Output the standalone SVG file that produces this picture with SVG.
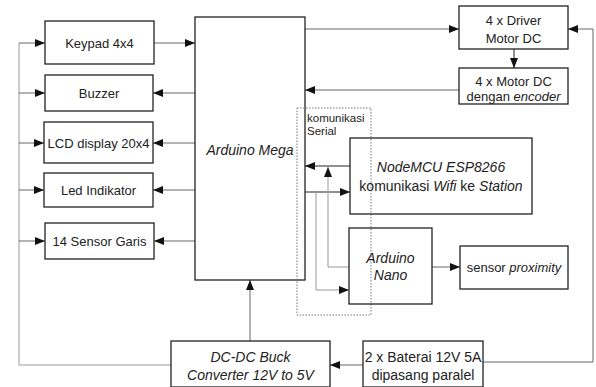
<svg xmlns="http://www.w3.org/2000/svg" width="596" height="387" viewBox="0 0 596 387">
<style>
.box{fill:#fff;stroke:#222;stroke-width:1.3}
.t{font-family:"Liberation Sans",Arial,sans-serif;font-size:13px;fill:#222;text-anchor:middle}
.b{font-size:14px}
.i{font-style:italic}
.s{font-size:11.5px;text-anchor:start}
.ln{fill:none;stroke:#666;stroke-width:1}
.dk{fill:none;stroke:#222;stroke-width:1}
.lt{fill:none;stroke:#999;stroke-width:1}
</style>
<defs>
<marker id="ah" markerWidth="10" markerHeight="8" refX="10" refY="4" orient="auto" markerUnits="userSpaceOnUse">
<path d="M0,0 L10,4 L0,8 Z" fill="#111"/>
</marker>
</defs>
<rect width="596" height="387" fill="#fff"/>
<g id="connectors">
<path class="lt" d="M171,365 H19 V43"/>
<path class="ln" d="M19,43 H45" marker-end="url(#ah)"/>
<path class="ln" d="M19,93 H45" marker-end="url(#ah)"/>
<path class="ln" d="M19,143 H44" marker-end="url(#ah)"/>
<path class="ln" d="M19,190 H44" marker-end="url(#ah)"/>
<path class="ln" d="M19,241 H45" marker-end="url(#ah)"/>
<path class="ln" d="M154,43 H195" marker-end="url(#ah)"/>
<path class="ln" d="M195,93 H153" marker-end="url(#ah)"/>
<path class="ln" d="M195,143 H153" marker-end="url(#ah)"/>
<path class="ln" d="M195,190 H153" marker-end="url(#ah)"/>
<path class="ln" d="M195,241 H154" marker-end="url(#ah)"/>
<path class="ln" d="M305,29 H459" marker-end="url(#ah)"/>
<path class="dk" d="M514,49 V68" marker-end="url(#ah)"/>
<path class="ln" d="M459,90 H305" marker-end="url(#ah)"/>
<path class="ln" d="M483,362 H593 V29 H568" marker-end="url(#ah)"/>
<path class="ln" d="M363,365 H330" marker-end="url(#ah)"/>
<path class="ln" d="M250,341 V280" marker-end="url(#ah)"/>
<path class="dk" d="M350,166 H305" marker-end="url(#ah)"/>
<path class="dk" d="M305,192 H350" marker-end="url(#ah)"/>
<path class="lt" d="M349,267 H328 V167" marker-end="url(#ah)"/>
<path class="lt" d="M316,192 V290 H349" marker-end="url(#ah)"/>
<path class="ln" d="M432,267 H460" marker-end="url(#ah)"/>
</g>
<g id="mega"><rect class="box" x="195" y="17" width="110" height="263"/>
<text class="t b i" x="250" y="155">Arduino Mega</text></g>
<g id="keypad"><rect class="box" x="45" y="21" width="109" height="43"/>
<text class="t" x="99.5" y="47.5">Keypad 4x4</text></g>
<g id="buzzer"><rect class="box" x="45" y="75" width="108" height="36"/>
<text class="t" x="99" y="97.5">Buzzer</text></g>
<g id="lcd"><rect class="box" x="44" y="122" width="109" height="41"/>
<text class="t" x="98.5" y="147.5">LCD display 20x4</text></g>
<g id="led"><rect class="box" x="44" y="173" width="109" height="34"/>
<text class="t" x="98.5" y="194.5">Led Indikator</text></g>
<g id="sensor-garis"><rect class="box" x="45" y="223" width="109" height="36"/>
<text class="t" x="99.5" y="245.5">14 Sensor Garis</text></g>
<g id="driver"><rect class="box" x="459" y="6" width="109" height="43"/>
<text class="t" x="513.5" y="25">4 x Driver</text>
<text class="t" x="513.5" y="43">Motor DC</text></g>
<g id="motor"><rect class="box" x="459" y="68" width="109" height="36"/>
<text class="t" x="513.5" y="86">4 x Motor DC</text>
<text class="t" x="513.5" y="101">dengan <tspan class="i">encoder</tspan></text></g>
<g id="serial"><rect x="297" y="108" width="74" height="207" fill="none" stroke="#777" stroke-width="1" stroke-dasharray="1.5,1.5"/>
<text class="t s" x="307" y="122">komunikasi</text>
<text class="t s" x="307" y="135">Serial</text></g>
<g id="nodemcu"><rect class="box" x="350" y="138" width="182" height="76" style="fill:none"/>
<text class="t b" x="441" y="172"><tspan class="i">NodeMCU ESP8266</tspan></text>
<text class="t b" x="441" y="191">komunikasi <tspan class="i">Wifi</tspan> ke <tspan class="i">Station</tspan></text></g>
<g id="nano"><rect class="box" x="349" y="228" width="83" height="76" style="fill:none"/>
<text class="t b i" x="390.5" y="263">Arduino</text>
<text class="t b i" x="390.5" y="280">Nano</text></g>
<g id="proximity"><rect class="box" x="460" y="246" width="108" height="43"/>
<text class="t" x="514" y="272">sensor <tspan class="i">proximity</tspan></text></g>
<g id="buck"><rect class="box" x="171" y="341" width="159" height="46"/>
<text class="t b i" x="250.5" y="362">DC-DC Buck</text>
<text class="t b i" x="250.5" y="380">Converter 12V to 5V</text></g>
<g id="baterai"><rect class="box" x="363" y="341" width="120" height="46"/>
<text class="t b" x="423" y="362">2 x Baterai 12V 5A</text>
<text class="t b" x="423" y="380">dipasang paralel</text></g>
</svg>
